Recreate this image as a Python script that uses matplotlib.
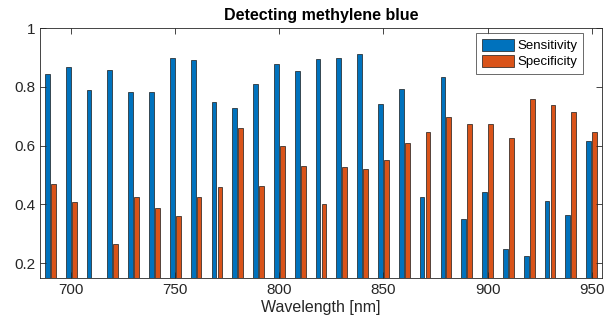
import matplotlib
matplotlib.use("Agg")
import matplotlib.pyplot as plt
import numpy as np

plt.rcParams['font.family'] = ['Liberation Sans', 'DejaVu Sans']

wavelengths = [690, 700, 710, 720, 730, 740, 750, 760, 770, 780, 790, 800, 810, 820,
               830, 840, 850, 860, 870, 880, 890, 900, 910, 920, 930, 940, 950]
sensitivity = [0.844, 0.867, 0.789, 0.858, 0.782, 0.781, 0.897, 0.890, 0.750, 0.729,
               0.808, 0.878, 0.855, 0.894, 0.898, 0.912, 0.742, 0.793, 0.426, 0.834,
               0.349, 0.444, 0.250, 0.225, 0.411, 0.364, 0.615]
specificity = [0.471, 0.409, 0.14, 0.267, 0.425, 0.389, 0.360, 0.426, 0.459, 0.660,
               0.462, 0.600, 0.531, 0.403, 0.526, 0.522, 0.550, 0.608, 0.646, 0.697,
               0.675, 0.675, 0.627, 0.758, 0.739, 0.714, 0.648]
series_names = ['Sensitivity', 'Specificity']
colors = ['#0072BD', '#D95319']

fig = plt.figure(figsize=(6.13, 3.28), dpi=100)
ax = fig.add_axes([40/613, 50/328, 562/613, 250/328])

x = np.array(wavelengths, dtype=float)
slot = 10 * (2 / 3.5) / 2
bw = slot * 0.8
for i, (vals, name, c) in enumerate(zip([sensitivity, specificity], series_names, colors)):
    off = (i - 0.5) * slot
    ax.bar(x + off, vals, width=bw, color=c, edgecolor='#1a1a1a', linewidth=0.5, label=name)

ax.set_xlim(685, 955)
ax.set_ylim(0.15, 1)
ax.set_xticks([700, 750, 800, 850, 900, 950])
ax.set_yticks([0.2, 0.4, 0.6, 0.8, 1.0])
ax.set_yticklabels(['0.2', '0.4', '0.6', '0.8', '1'])
ax.tick_params(direction='in', top=True, right=True, length=4, width=0.6,
               colors='#262626', labelsize=11, labelcolor='#262626')
for s in ax.spines.values():
    s.set_color('#262626')
    s.set_linewidth(0.6)

ax.set_title('Detecting methylene blue', fontsize=11.5, fontweight='bold', pad=6)
ax.set_xlabel('Wavelength [nm]', fontsize=11.5, color='#262626', labelpad=2)

leg = ax.legend(loc='upper right', fontsize=9.5, frameon=True, fancybox=False,
                edgecolor='#262626', handlelength=2.4, handleheight=1.0,
                handletextpad=0.25, borderpad=0.45, labelspacing=0.2,
                borderaxespad=0, bbox_to_anchor=(583/613, 295/328),
                bbox_transform=fig.transFigure)
leg.get_frame().set_linewidth(0.6)

fig.savefig('out.png', dpi=100, facecolor='white')
